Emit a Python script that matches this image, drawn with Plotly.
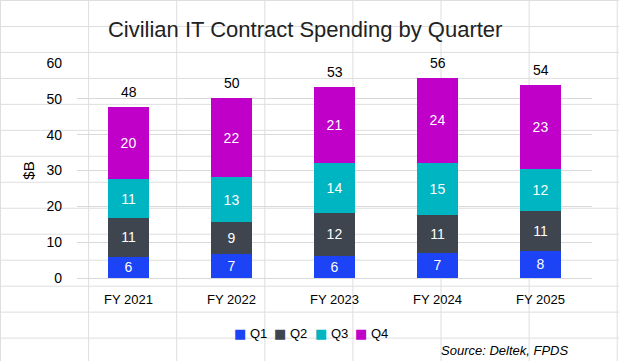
import plotly.graph_objects as go

years = ["FY 2021", "FY 2022", "FY 2023", "FY 2024", "FY 2025"]
q1 = [5.9, 6.6, 6.2, 7.1, 7.6]
q2 = [10.9, 8.9, 11.9, 10.5, 11.2]
q3 = [10.7, 12.8, 14.0, 14.6, 11.7]
q4 = [20.3, 21.8, 21.3, 23.7, 23.4]
series = [("Q1", q1, "#1C43F5"), ("Q2", q2, "#3E454F"), ("Q3", q3, "#00B5C2"), ("Q4", q4, "#C000C8")]
totals = [a + b + c + d for a, b, c, d in zip(q1, q2, q3, q4)]

W, H = 619, 361
L, R, T, B = 77, 27, 63, 83
pw, ph = W - L - R, H - T - B

FONT = "Liberation Sans"

fig = go.Figure()
for name, vals, col in series:
    fig.add_trace(go.Bar(
        x=years, y=vals, name=name, marker_color=col, marker_line_width=0,
        texttemplate="%{y:.0f}", textposition="inside", insidetextanchor="middle",
        textangle=0, constraintext="none", showlegend=False,
        textfont=dict(color="white", size=14, family=FONT), hoverinfo="skip"))

annotations = []
for yr, t in zip(years, totals):
    annotations.append(dict(x=yr, y=t, text=f"{t:.0f}", showarrow=False, yanchor="middle",
                            yshift=15, font=dict(size=14, color="#000000", family=FONT)))

def px_x(p): return (p - L) / pw
def px_y(p): return (H - B - p) / ph

# compact legend (square swatch + series name) below the axis
for i, (name, vals, col) in enumerate(series):
    annotations.append(dict(
        text=f"<span style='font-family:DejaVu Sans;color:{col}'>■</span> {name}",
        xref="paper", yref="paper", x=px_x(231.5 + 40.5 * i), y=px_y(333),
        xanchor="left", yanchor="middle", showarrow=False,
        font=dict(size=13, family=FONT, color="#000000")))

# spreadsheet cell grid behind the chart
shapes = []
for k in range(8):
    xp = 0.5 + 88.1 * k
    shapes.append(dict(type="line", xref="paper", yref="paper", x0=px_x(xp), x1=px_x(xp),
                       y0=px_y(0), y1=px_y(H), line=dict(color="#DEDEDE", width=1), layer="below"))
for k in range(14):
    yp = 0.5 + 25.97 * k
    shapes.append(dict(type="line", xref="paper", yref="paper", x0=px_x(0), x1=px_x(W),
                       y0=px_y(yp), y1=px_y(yp), line=dict(color="#DEDEDE", width=1), layer="below"))

annotations.append(dict(text="<i>Source: Deltek, FPDS</i>", xref="paper", yref="paper",
                        x=px_x(570), y=px_y(350), xanchor="right", yanchor="middle",
                        showarrow=False, font=dict(size=13, family=FONT)))

fig.update_layout(
    width=W, height=H, barmode="stack", bargap=0.6,
    margin=dict(l=L, r=R, t=T, b=B, autoexpand=False),
    paper_bgcolor="white", plot_bgcolor="rgba(0,0,0,0)",
    font=dict(family=FONT, size=13, color="#000000"),
    title=dict(text="Civilian IT Contract Spending by Quarter", x=0.493, xanchor="center",
               y=1 - 29 / H, yanchor="middle", font=dict(size=22, family=FONT, color="#222222")),
    xaxis=dict(showgrid=False, showline=False, ticks="", tickfont=dict(size=13),
               ticklabelstandoff=12),
    yaxis=dict(range=[0, 60], dtick=10, showgrid=True, gridcolor="#D9D9D9", gridwidth=1,
               zeroline=True, zerolinecolor="#D9D9D9", zerolinewidth=1, showline=False,
               ticks="", tickfont=dict(size=14), ticklabelstandoff=14,
               title=dict(text="$B", font=dict(size=15), standoff=8)),
    showlegend=False,
    shapes=shapes,
    annotations=annotations,
)
fig.write_html("out.html", config={"displayModeBar": False},
               post_script="document.body.style.margin='0';")
